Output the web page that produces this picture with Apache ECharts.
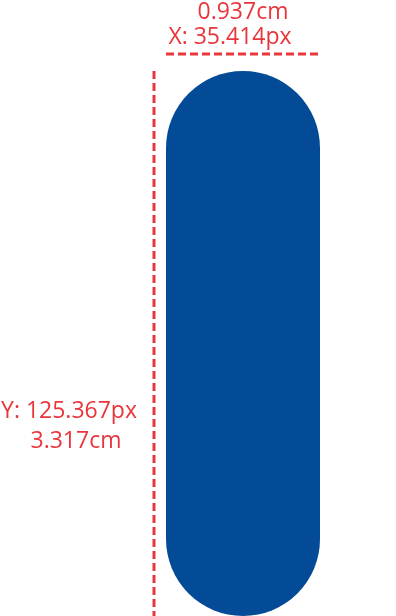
<!DOCTYPE html>
<html>
<head>
<meta charset="utf-8">
<script src="https://cdn.jsdelivr.net/npm/echarts@6/dist/echarts.min.js"></script>
<style>html,body{margin:0;padding:0;background:#fff}#main{width:396px;height:616px}</style>
</head>
<body>
<div id="main"></div>
<script>
// measured size of the shape (px units) and the same in cm
var widthPx = 35.414;
var heightPx = 125.367;
var widthCm = 0.937;
var heightCm = 3.317;

var red = '#e8363c';
var blue = '#034a97';
var labelFont = '23px "Open Sans"';

var myChart = echarts.init(document.getElementById('main'));
var option = {
    backgroundColor: '#fff',
    animation: false,
    grid: { left: 166, top: 71, width: 154, height: 545 },
    xAxis: { type: 'value', min: 0, max: widthPx, show: false },
    yAxis: { type: 'value', min: 0, max: heightPx, show: false },
    series: [{
        type: 'custom',
        clip: false,
        data: [[0, heightPx, widthPx, 0]],
        renderItem: function (params, api) {
            var p0 = api.coord([api.value(0), api.value(1)]);
            var p1 = api.coord([api.value(2), api.value(3)]);
            var w = p1[0] - p0[0], h = p1[1] - p0[1];
            var dash = { stroke: red, lineWidth: 3, lineDash: [8, 4] };
            return {
                type: 'group',
                children: [{
                    type: 'rect',
                    shape: { x: p0[0], y: p0[1], width: w, height: h, r: w / 2 },
                    style: { fill: blue }
                }, {
                    type: 'line',
                    shape: { x1: p0[0], y1: p0[1] - 17, x2: p1[0], y2: p0[1] - 17 },
                    style: dash
                }, {
                    type: 'line',
                    shape: { x1: p0[0] - 12, y1: p0[1], x2: p0[0] - 12, y2: p1[1] },
                    style: dash
                }]
            };
        }
    }],
    graphic: [{
        type: 'text', x: 243, y: 12,
        style: { text: widthCm + 'cm', fill: red, font: labelFont, align: 'center', verticalAlign: 'middle' }
    }, {
        type: 'text', x: 230, y: 37,
        style: { text: 'X: ' + widthPx + 'px', fill: red, font: labelFont, align: 'center', verticalAlign: 'middle' }
    }, {
        type: 'text', x: 69, y: 411,
        style: { text: 'Y: ' + heightPx + 'px', fill: red, font: labelFont, align: 'center', verticalAlign: 'middle' }
    }, {
        type: 'text', x: 76, y: 441,
        style: { text: heightCm + 'cm', fill: red, font: labelFont, align: 'center', verticalAlign: 'middle' }
    }]
};
myChart.setOption(option);
</script>
</body>
</html>
